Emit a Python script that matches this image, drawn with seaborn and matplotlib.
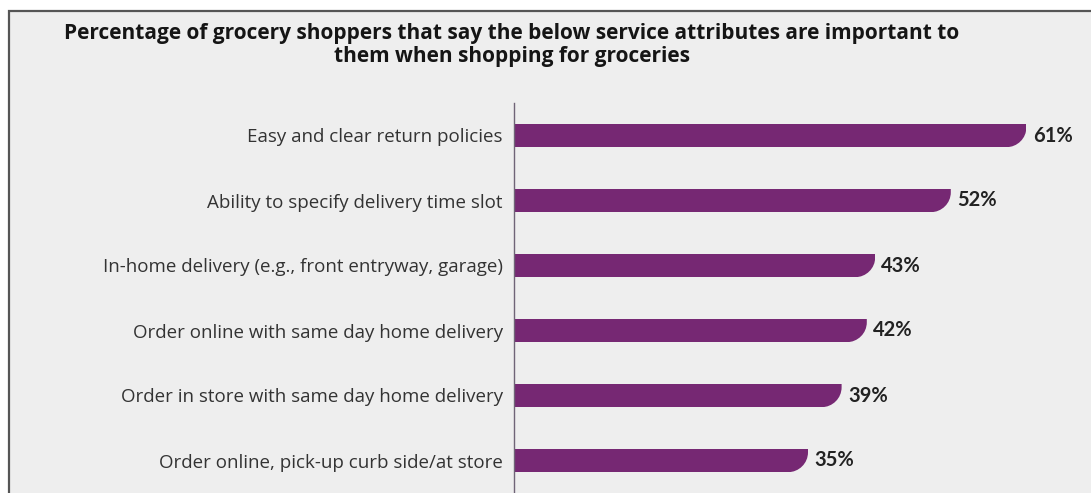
import matplotlib
matplotlib.use("Agg")
import matplotlib.pyplot as plt
from matplotlib.patches import Rectangle, PathPatch
from matplotlib.path import Path
import seaborn as sns
import pandas as pd

categories = [
    "Easy and clear return policies",
    "Ability to specify delivery time slot",
    "In-home delivery (e.g., front entryway, garage)",
    "Order online with same day home delivery",
    "Order in store with same day home delivery",
    "Order online, pick-up curb side/at store",
]
values = [61, 52, 43, 42, 39, 35]
value_labels = ["61%", "52%", "43%", "42%", "39%", "35%"]
title = ("Percentage of grocery shoppers that say the below service attributes are important to\n"
         "them when shopping for groceries")

BAR_COLOR = "#762873"
PANEL_BG = "#eeeeee"
TEXT_DARK = "#2b2b2b"

sns.set_theme(style="white")
plt.rcParams["font.family"] = ["Open Sans", "DejaVu Sans"]

W, H = 1091, 493
fig = plt.figure(figsize=(W / 100, H / 100), dpi=100, facecolor="white")

# grey framed panel behind the chart
fig.patches.append(Rectangle((9 / W, -0.1), 1.2, 1.1 - 11 / H,
                             transform=fig.transFigure, facecolor=PANEL_BG,
                             edgecolor="#555555", linewidth=1.6, zorder=-5))

ax_left, ax_top = 514, 103
ax = fig.add_axes([ax_left / W, 0, (W - ax_left) / W, (H - ax_top) / H])
ax.set_facecolor("none")
ax.set_zorder(2)

df = pd.DataFrame({"attribute": categories, "share": values})
sns.barplot(data=df, x="share", y="attribute", color=BAR_COLOR, saturation=1,
            width=0.36, orient="h", ax=ax)

ax.set_xlim(0, (W - ax_left) / 8.4)
ax.set_ylim(5.5, -0.5)

# round the lower right corner of each bar
for bar in ax.patches:
    x0, y0 = bar.get_x(), bar.get_y()
    x1, y1 = x0 + bar.get_width(), y0 + bar.get_height()
    rx, ry = 2.4, 0.85 * bar.get_height()
    k = 0.5523
    verts = [(x0, y0), (x1, y0), (x1, y1 - ry),
             (x1, y1 - ry + k * ry), (x1 - rx + k * rx, y1), (x1 - rx, y1),
             (x0, y1), (x0, y0)]
    codes = [Path.MOVETO, Path.LINETO, Path.LINETO,
             Path.CURVE4, Path.CURVE4, Path.CURVE4,
             Path.LINETO, Path.CLOSEPOLY]
    clip = PathPatch(Path(verts, codes), transform=ax.transData)
    bar.set_clip_path(clip)
    bar.set_edgecolor("none")

for bar, lab in zip(ax.patches, value_labels):
    ax.annotate(lab, (bar.get_x() + bar.get_width(), bar.get_y() + bar.get_height() / 2),
                xytext=(4.5, 0), textcoords="offset points", va="center", ha="left",
                fontsize=14.5, fontweight="bold", fontstretch="normal",
                family=["Lato", "DejaVu Sans"], color="#222222")

ax.set_xlabel("")
ax.set_ylabel("")
ax.set_xticks([])
ax.tick_params(axis="y", length=0, pad=8, labelsize=13.5, labelcolor="#333333")
for s in ["top", "right", "bottom"]:
    ax.spines[s].set_visible(False)
ax.spines["left"].set_color("#6f6477")
ax.spines["left"].set_linewidth(1.0)

fig.text(512 / W, 1 - 45 / H, title, ha="center", va="center",
         fontsize=15, fontweight="bold", color="#151515", linespacing=1.12)

fig.savefig("out.png", dpi=100, facecolor="white")
